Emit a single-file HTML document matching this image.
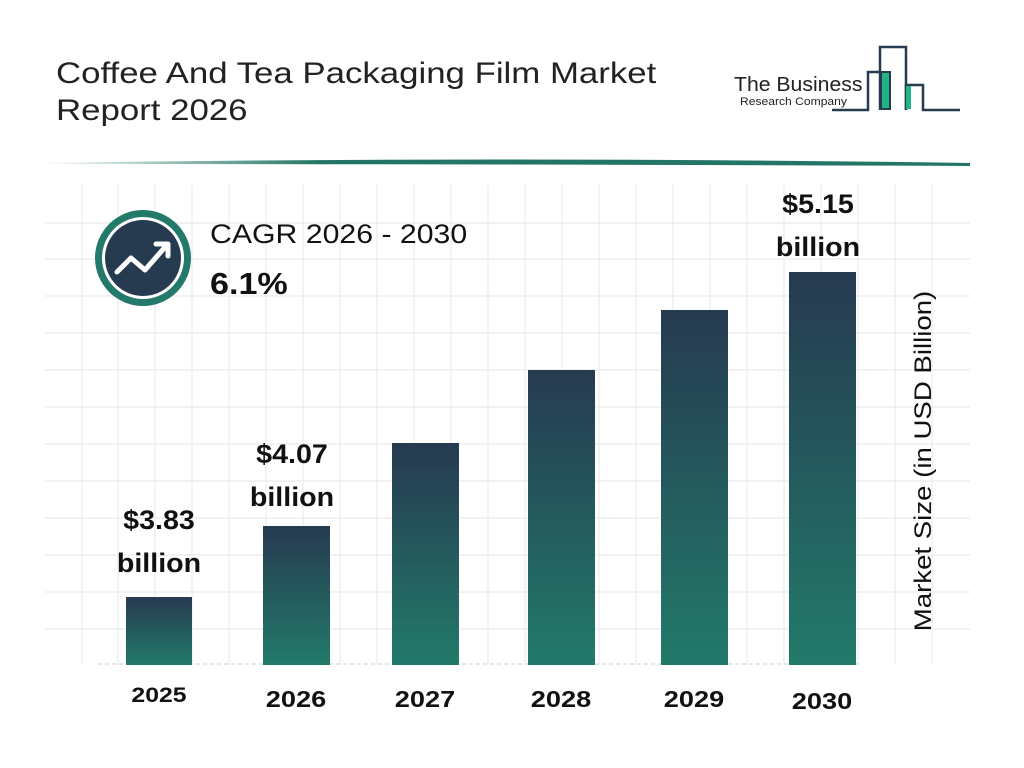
<!DOCTYPE html>
<html><head><style>
body{margin:0;width:1024px;height:768px;background:#fff;font-family:"Liberation Sans",sans-serif;overflow:hidden;position:relative}
.t{position:absolute;left:56px;top:55px;font-size:30px;line-height:37px;color:#222;transform-origin:0 0;transform:scaleX(1.16);white-space:nowrap}
.ab{position:absolute;font-weight:bold;color:#111;text-align:center;transform:scaleX(1.18)}
.bl{transform:scaleX(1.06)}
</style></head><body>
<svg width="1024" height="768" style="position:absolute;left:0;top:0">
<defs>
<linearGradient id="hl" x1="0" x2="1"><stop offset="0" stop-color="#2a7a6a" stop-opacity="0"/><stop offset="0.3" stop-color="#237565"/><stop offset="1" stop-color="#237565"/></linearGradient>
<linearGradient id="bg" x1="0" y1="0" x2="0" y2="1"><stop offset="0" stop-color="#263a50"/><stop offset="1" stop-color="#227a6a"/></linearGradient>
</defs>
<path d="M40 163 Q500 156 970 163 L970 166 Q500 164 40 164Z" fill="url(#hl)"/>
<g stroke="#e9ebee" stroke-width="1.2">
<line x1="45" x2="970" y1="223" y2="223"/><line x1="45" x2="970" y1="259" y2="259"/><line x1="45" x2="970" y1="296" y2="296"/><line x1="45" x2="970" y1="333" y2="333"/><line x1="45" x2="970" y1="370" y2="370"/><line x1="45" x2="970" y1="407" y2="407"/><line x1="45" x2="970" y1="444" y2="444"/><line x1="45" x2="970" y1="481" y2="481"/><line x1="45" x2="970" y1="518" y2="518"/><line x1="45" x2="970" y1="555" y2="555"/><line x1="45" x2="970" y1="592" y2="592"/><line x1="45" x2="970" y1="629" y2="629"/>
<line x1="82" x2="82" y1="185" y2="665"/><line x1="118" x2="118" y1="185" y2="665"/><line x1="155" x2="155" y1="185" y2="665"/><line x1="192" x2="192" y1="185" y2="665"/><line x1="229" x2="229" y1="185" y2="665"/><line x1="266" x2="266" y1="185" y2="665"/><line x1="303" x2="303" y1="185" y2="665"/><line x1="340" x2="340" y1="185" y2="665"/><line x1="377" x2="377" y1="185" y2="665"/><line x1="414" x2="414" y1="185" y2="665"/><line x1="451" x2="451" y1="185" y2="665"/><line x1="488" x2="488" y1="185" y2="665"/><line x1="525" x2="525" y1="185" y2="665"/><line x1="562" x2="562" y1="185" y2="665"/><line x1="599" x2="599" y1="185" y2="665"/><line x1="636" x2="636" y1="185" y2="665"/><line x1="673" x2="673" y1="185" y2="665"/><line x1="710" x2="710" y1="185" y2="665"/><line x1="747" x2="747" y1="185" y2="665"/><line x1="784" x2="784" y1="185" y2="665"/><line x1="821" x2="821" y1="185" y2="665"/><line x1="858" x2="858" y1="185" y2="665"/><line x1="895" x2="895" y1="185" y2="665"/><line x1="932" x2="932" y1="185" y2="665"/>
</g>
<line x1="98" x2="860" y1="664" y2="664" stroke="#ccc" stroke-dasharray="4 3"/>
<rect x="126" y="597" width="66" height="68" fill="url(#bg)"/>
<rect x="263" y="526" width="67" height="139" fill="url(#bg)"/>
<rect x="392" y="443" width="67" height="222" fill="url(#bg)"/>
<rect x="528" y="370" width="67" height="295" fill="url(#bg)"/>
<rect x="661" y="310" width="67" height="355" fill="url(#bg)"/>
<rect x="789" y="272" width="67" height="393" fill="url(#bg)"/>
<circle cx="143" cy="258" r="48" fill="#237a6a"/>
<circle cx="143" cy="258" r="41" fill="#fff"/>
<circle cx="143" cy="258" r="38" fill="#263a50"/>
<path d="M117 272 L131 258 L145 270 L166 246" stroke="#fff" stroke-width="5" fill="none" stroke-linecap="round" stroke-linejoin="round"/>
<path d="M156 244 L168 244 L168 256" stroke="#fff" stroke-width="5" fill="none" stroke-linecap="round" stroke-linejoin="round"/>
<g fill="none" stroke="#263a50" stroke-width="2.5">
<path d="M832 110 L868 110 L868 72 L880 72 L880 110"/>
<path d="M880 72 L880 47 L906 47 L906 110"/>
<path d="M906 110 L906 85 L923 85 L923 110 L960 110"/>
</g>
<rect x="881" y="72" width="9" height="37" fill="#1fb585" stroke="#263a50" stroke-width="2"/>
<rect x="906" y="86" width="5" height="23" fill="#1fb585"/>
</svg>
<div class="t">Coffee And Tea Packaging Film Market<br>Report 2026</div>
<div style="position:absolute;left:734px;top:74px;font-size:20px;color:#222;transform-origin:0 0;transform:scaleX(1.06)">The Business</div>
<div style="position:absolute;left:740px;top:96px;font-size:11px;color:#222;transform-origin:0 0;transform:scaleX(1.1)">Research Company</div>
<div style="position:absolute;left:210px;top:219px;font-size:27px;color:#111;transform-origin:0 0;transform:scaleX(1.12);white-space:nowrap">CAGR 2026 - 2030</div>
<div style="position:absolute;left:210px;top:266px;font-size:31px;font-weight:bold;color:#111;transform-origin:0 0;transform:scaleX(1.1)">6.1%</div>
<div class="ab bl" style="left:99px;width:120px;top:499px;font-size:27px;line-height:43px">$3.83<br>billion</div>
<div class="ab bl" style="left:232px;width:120px;top:433px;font-size:27px;line-height:43px">$4.07<br>billion</div>
<div class="ab bl" style="left:758px;width:120px;top:183px;font-size:27px;line-height:43px">$5.15<br>billion</div>
<div class="ab" style="left:109px;width:100px;top:684px;font-size:21px">2025</div>
<div class="ab" style="left:246px;width:100px;top:686px;font-size:23px">2026</div>
<div class="ab" style="left:375px;width:100px;top:686px;font-size:23px">2027</div>
<div class="ab" style="left:511px;width:100px;top:686px;font-size:23px">2028</div>
<div class="ab" style="left:644px;width:100px;top:686px;font-size:23px">2029</div>
<div class="ab" style="left:772px;width:100px;top:688px;font-size:23px">2030</div>
<div style="position:absolute;left:924px;top:461px;transform:translate(-50%,-50%) rotate(-90deg) scaleX(1.15);white-space:nowrap;font-size:24px;color:#111">Market Size (in USD Billion)</div>
</body></html>
